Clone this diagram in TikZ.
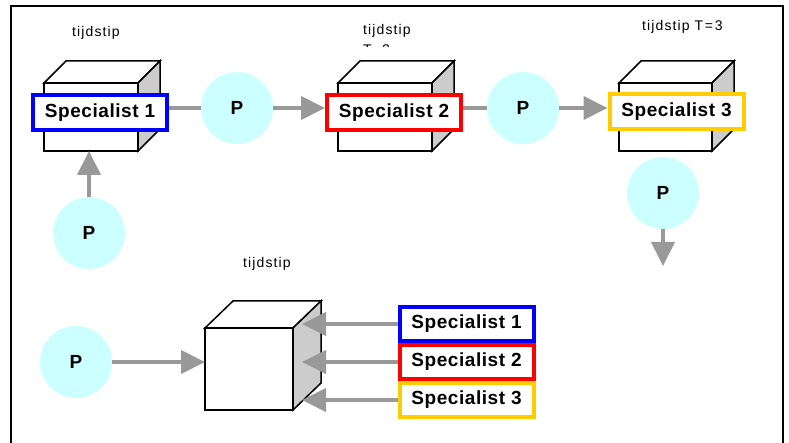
\documentclass[tikz,border=0pt]{standalone}
\usepackage{fontspec}
\setmainfont{Liberation Sans}
\usetikzlibrary{arrows.meta,calc}
\definecolor{pcyan}{RGB}{204,255,255}
\definecolor{agray}{RGB}{153,153,153}
\definecolor{sgray}{RGB}{204,204,204}
\definecolor{syellow}{RGB}{255,204,0}
\tikzset{
  specbox/.style={draw=#1, line width=4pt, fill=white, minimum width=134pt, minimum height=35pt, inner sep=0pt,
     font=\fontsize{19}{20}\selectfont\bfseries\addfontfeature{LetterSpace=3}},
  pnode/.style={circle, fill=pcyan, minimum size=72pt, inner sep=0pt, font=\fontsize{19}{20}\selectfont\bfseries},
  conn/.style={draw=agray, line width=4pt},
  arr/.style={conn, -{Triangle[length=24pt,width=23pt]}},
  cubeline/.style={draw=black, line width=1.5pt, line join=miter},
  lbl/.style={inner sep=0pt, font=\fontsize{14}{16}\selectfont\addfontfeature{LetterSpace=8}},
  frame/.style={draw=black, line width=2pt}
}
\newcommand{\mycube}[6]{% x1,y1,x2,y2,dx,dy
  \filldraw[cubeline, fill=white] (#1,#2) -- ($(#1,#2)+(#5,-#6)$) -- ($(#3,#2)+(#5,-#6)$) -- (#3,#2) -- cycle;
  \filldraw[cubeline, fill=sgray] (#3,#2) -- ($(#3,#2)+(#5,-#6)$) -- ($(#3,#4)+(#5,-#6)$) -- (#3,#4) -- cycle;
  \filldraw[cubeline, fill=white] (#1,#2) rectangle (#3,#4);
}
\begin{document}
\begin{tikzpicture}[x=1pt,y=-1pt]
\useasboundingbox (0,0) rectangle (789,443);
\fill[white] (0,0) rectangle (789,443);
\draw[frame] (11,445) -- (11,6) -- (783,6) -- (783,445);

% cubes
\mycube{44}{83}{138}{151}{22}{22}
\mycube{338}{83}{432}{151}{22}{22}
\mycube{619}{83}{712}{151}{22}{22}
\mycube{205}{328}{293}{410}{28}{27}

% labels
\node[lbl] (t1) at (96,33) {tijdstip};
\node[lbl] (t2) at (387,31) {tijdstip};
\begin{scope}
\clip (350,40) rectangle (430,47);
\node[lbl, anchor=north west] (t2b) at (363,44.5) {T=2};
\end{scope}
\node[lbl, anchor=west] (t3) at (642,27) {tijdstip {\addfontfeature{LetterSpace=12}T=3}};
\node[lbl] (t4) at (267,264) {tijdstip};

% specialist boxes top
\node[specbox=blue] (s1) at (100,112.5) {Specialist 1};
\node[specbox=red] (s2) at (394,112.5) {Specialist 2};
\node[specbox=syellow] (s3) at (676.5,111.5) {Specialist 3};

% P circles
\node[pnode] (p1) at (237,108) {P};
\node[pnode] (p2) at (523,108) {P};
\node[pnode] (p3) at (663,193) {P};
\node[pnode] (p0) at (89,233) {P};
\node[pnode] (pb) at (76,362) {P};

% coordinates
\coordinate (c1bot) at (89,151);
\coordinate (p3end) at (663,266);
\coordinate (c4left) at (205,362);
\coordinate (c4side) at (302,0);

% top connectors
\draw[conn] (s1.east |- p1.west) -- (p1.west);
\draw[arr] (p1.east) -- (p1.east -| s2.west);
\draw[conn] (s2.east |- p2.west) -- (p2.west);
\draw[arr] (p2.east) -- (p2.east -| s3.west);
\draw[arr] (p0.north) -- (c1bot);
\draw[arr] (p3.south) -- (p3end);

% bottom boxes
\node[specbox=blue, minimum height=34pt] (b1) at (466.5,324) {Specialist 1};
\node[specbox=red, minimum height=34pt] (b2) at (466.5,362) {Specialist 2};
\node[specbox=syellow, minimum height=34pt] (b3) at (466.5,400) {Specialist 3};

\draw[arr] (pb.east) -- (c4left);
\draw[arr] (b1.west) -- (b1.west -| c4side);
\draw[arr] (b2.west) -- (b2.west -| c4side);
\draw[arr] (b3.west) -- (b3.west -| c4side);
\end{tikzpicture}
\end{document}
